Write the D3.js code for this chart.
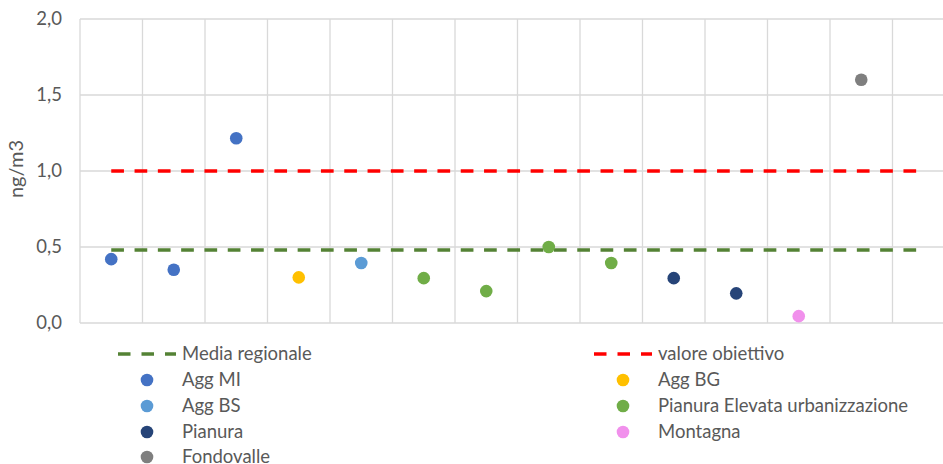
<!DOCTYPE html>
<html><head><meta charset="utf-8">
<script src="https://cdn.jsdelivr.net/npm/d3@7"></script>
<style>body{margin:0;background:#fff}svg{display:block}text{font-family:Lato,"Open Sans",sans-serif;fill:#595959}</style>
</head><body><svg id="c" width="943" height="464"></svg>
<script>
const categories = ["1","2","3","4","5","6","7","8","9","10","11","12","13","14"];
const yTicks = [0, 0.5, 1.0, 1.5, 2.0];
const mediaRegionale = 0.48;
const valoreObiettivo = 1.0;
const seriesNames = ["Agg MI","Agg BG","Agg BS","Pianura Elevata urbanizzazione","Pianura","Montagna","Fondovalle"];
const seriesColors = ["#4472C4","#FFC000","#5B9BD5","#70AD47","#264478","#F190EC","#7F7F7F"];
const aggMI = [[0,0.42],[1,0.35],[2,1.215]];
const aggBG = [[3,0.30]];
const aggBS = [[4,0.395]];
const pianuraElevata = [[5,0.295],[6,0.21],[7,0.50],[8,0.395]];
const pianura = [[9,0.295],[10,0.195]];
const montagna = [[11,0.045]];
const fondovalle = [[12,1.60]];
const seriesData = [aggMI, aggBG, aggBS, pianuraElevata, pianura, montagna, fondovalle];

const FS = "18.5px";
const svg = d3.select("#c");
const L = 80, R = 955, T = 19, B = 323;
const x = d3.scaleBand().domain(categories).range([L, R]);
const y = d3.scaleLinear().domain([0, 2]).range([B, T]);

// gridlines
svg.append("g").selectAll("line").data(yTicks).join("line")
  .attr("x1", L).attr("x2", R).attr("y1", d => y(d)).attr("y2", d => y(d))
  .attr("stroke", "#d9d9d9").attr("stroke-width", 1.3);
const vb = categories.map(c => x(c)).concat([R]);
svg.append("g").selectAll("line").data(vb).join("line")
  .attr("x1", d => d).attr("x2", d => d).attr("y1", T).attr("y2", B)
  .attr("stroke", "#d9d9d9").attr("stroke-width", 1.3);

// y axis labels
const yAxis = d3.axisLeft(y).tickValues(yTicks).tickSize(0).tickPadding(18)
  .tickFormat(d => d3.format(".1f")(d).replace(".", ","));
const ga = svg.append("g").attr("transform", `translate(${L},0)`).call(yAxis);
ga.select(".domain").remove();
ga.selectAll("text").style("font-size", FS).attr("fill", "#595959").style("font-family", "Lato, sans-serif");
svg.append("text").attr("transform", `translate(23,${(T+B)/2 - 2}) rotate(-90)`)
  .attr("text-anchor", "middle").style("font-size", "20px").text("ng/m3");

// reference lines
const cx = c => x(c) + x.bandwidth()/2;
const line = d3.line().x(d => cx(d[0])).y(d => y(d[1]));
const first = categories[0], last = categories[categories.length-1];
const DASH = "12.7,10.6";
svg.append("path").datum([[first, mediaRegionale],[last, mediaRegionale]])
  .attr("d", line).attr("stroke", "#548235").attr("stroke-width", 3.5)
  .attr("stroke-dasharray", DASH).attr("fill", "none");
svg.append("path").datum([[first, valoreObiettivo],[last, valoreObiettivo]])
  .attr("d", line).attr("stroke", "#FF0000").attr("stroke-width", 3.5)
  .attr("stroke-dasharray", DASH).attr("fill", "none");

// points
seriesData.forEach((s, i) => {
  svg.append("g").selectAll("circle").data(s).join("circle")
    .attr("cx", d => cx(categories[d[0]])).attr("cy", d => y(d[1]))
    .attr("r", 6.3).attr("fill", seriesColors[i]);
});

// legend
const lg = svg.append("g");
const rowY = [354, 380, 406, 432, 457];
function legLine(x0, yy, color, label) {
  lg.append("line").attr("x1", x0).attr("x2", x0 + 58).attr("y1", yy).attr("y2", yy)
    .attr("stroke", color).attr("stroke-width", 3.5).attr("stroke-dasharray", "12.5,11");
  lg.append("text").attr("x", x0 + 64).attr("y", yy).attr("dy", "0.35em").style("font-size", FS).text(label);
}
legLine(118, rowY[0], "#548235", "Media regionale");
legLine(594, rowY[0], "#FF0000", "valore obiettivo");
seriesNames.forEach((n, i) => {
  const col = i % 2, row = 1 + Math.floor(i / 2);
  const dotX = col === 0 ? 147 : 623, txtX = col === 0 ? 182 : 658;
  lg.append("circle").attr("cx", dotX).attr("cy", rowY[row]).attr("r", 6.3).attr("fill", seriesColors[i]);
  lg.append("text").attr("x", txtX).attr("y", rowY[row]).attr("dy", "0.35em").style("font-size", FS).text(n);
});
</script></body></html>
